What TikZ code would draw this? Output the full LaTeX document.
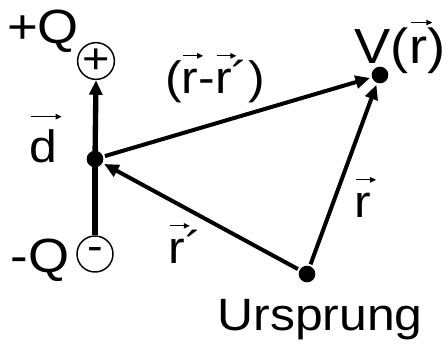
\documentclass[tikz,border=0pt]{standalone}
\usepackage{fontspec}
\setmainfont{Liberation Sans}[FakeStretch=1.1]
\usepackage{tikz}
\usetikzlibrary{arrows.meta}

% small vector arrow over a letter
\newcommand{\vecarr}[2][0.82em]{\tikz[baseline=0pt]{\node[anchor=base, inner sep=0pt] (v) {#2}; \draw[overlay, line width=0.9pt, -{Triangle[length=4.5pt, width=4pt]}] ([yshift=#1, xshift=0.04em]v.base west) -- ([yshift=#1, xshift=0.1em]v.base east);}}

\begin{document}
\begin{tikzpicture}[x=0.75pt, y=-0.75pt, line width=3pt,
    vec/.style={-{Triangle[length=11pt, width=9.5pt]}},
    dot/.style={circle, fill=black, inner sep=0pt, minimum size=12.5pt},
    charge/.style={circle, draw, line width=1.1pt, inner sep=0pt, minimum size=27pt, font=\fontsize{32}{34}\selectfont},
    lab/.style={inner sep=0pt, anchor=base, font=\fontsize{34}{38}\selectfont}]
    \useasboundingbox (0,0) rectangle (446,347);

    % Charges
    \node[charge] (plus) at (96,61) {+};
    \node[charge] (minus) at (95,254) {-};
    \node[lab, font=\fontsize{36}{40}\selectfont] (plusq) at (43,43) {+Q};
    \node[lab, font=\fontsize{36}{40}\selectfont] (minusq) at (40,272) {-Q};

    % Points
    \node[dot] (mid) at (95,159) {};
    \node[dot] (point) at (380,75) {};
    \node[dot] (origin) at (307,274) {};

    % Dipole
    \draw[vec, line width=4pt] (mid.center) -- (plus.south);
    \draw[line width=4pt] (mid.center) -- (minus.north);
    \node[lab] (dlab) at (43,162) {\vecarr[1em]{d}};

    % Vectors
    \draw[vec] (mid) -- (point);
    \draw[vec] (origin) -- (point);
    \draw[vec] (origin) -- (mid);

    % Labels
    \node[lab] (difflab) at (215,93) {(\vecarr{r}-\vecarr{r}´)};
    \node[lab, font=\fontsize{37}{41}\selectfont] (vlab) at (400,63) {V(\vecarr{r})};
    \node[lab] (rlab) at (363,217) {\vecarr{r}};
    \node[lab] (rplab) at (185,263) {\vecarr{r}´};
    \node[lab] (origlab) at (320,330) {Ursprung};
\end{tikzpicture}
\end{document}
